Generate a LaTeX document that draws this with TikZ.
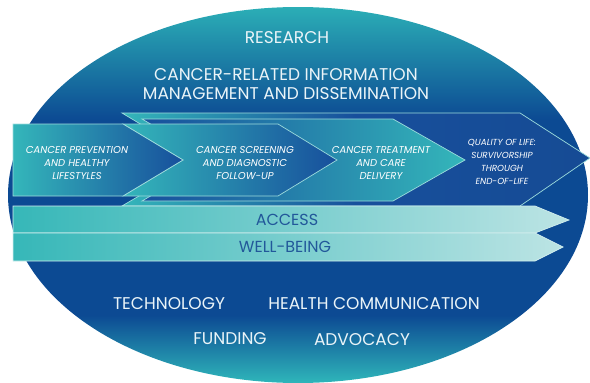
\documentclass[tikz,border=0pt]{standalone}
\usepackage{fontspec}
\setmainfont{Poppins}
\definecolor{ellteal}{HTML}{2BAEB6}
\definecolor{elldark}{HTML}{0C4A93}
\definecolor{ellbot}{HTML}{2FB6BA}
\definecolor{chevteal}{HTML}{34B6BA}
\definecolor{chevdark}{HTML}{174F9C}
\definecolor{edgecol}{HTML}{9CDCDC}
\definecolor{barleft}{HTML}{36B7B8}
\definecolor{barright}{HTML}{BCE4E4}
\definecolor{baredge}{HTML}{D2EEEE}
\definecolor{bartext}{HTML}{22589A}
\definecolor{ltext}{HTML}{EAF4F8}
\pgfdeclareverticalshading{ellshade}{100bp}{color(0bp)=(ellbot); color(25bp)=(ellbot); color(34bp)=(elldark); color(60bp)=(elldark); color(75bp)=(ellteal); color(100bp)=(ellteal)}
\tikzset{
  chev/.style={draw=edgecol, line width=0.7pt, line join=miter},
  barbox/.style={draw=baredge, line width=0.7pt, left color=barleft, right color=barright},
  bigtext/.style={text=ltext, font=\fontsize{17}{20}\selectfont, inner sep=0pt},
  chevtext/.style={text=white, font=\itshape\fontsize{10}{13}\selectfont, align=center, inner sep=0pt},
  bartxt/.style={text=bartext, font=\fontsize{16}{18}\selectfont, inner sep=0pt}
}
\begin{document}
\begin{tikzpicture}[x=1pt,y=-1pt]
\useasboundingbox (0,0) rectangle (590,383);
% ellipse
\shade[shading=ellshade] (298,195) ellipse [x radius=290, y radius=188];
% back arrow (quality of life)
\draw[chev, left color=chevteal, right color=chevdark!95!black, middle color=chevdark]
  (122,113) -- (520,113) -- (590,158) -- (520,206) -- (122,206) -- (200,160) -- cycle;
% treatment arrow
\draw[chev, left color=chevdark, right color=chevteal]
  (142,119) -- (393,119) -- (465,160) -- (393,201) -- (142,201) -- (212,160) -- cycle;
% screening arrow
\draw[chev, left color=chevteal, right color=chevdark]
  (123,124) -- (278,124) -- (337,160) -- (278,196) -- (123,196) -- (183,160) -- cycle;
% prevention arrow
\draw[chev, left color=chevteal, right color=chevdark]
  (13,124) -- (123,124) -- (183,160) -- (123,196) -- (13,196) -- cycle;
% bars
\draw[barbox] (13,206) -- (535,206) -- (569,220) -- (535,233) -- (13,233) -- cycle;
\draw[barbox] (13,233) -- (535,233) -- (563,247) -- (535,261) -- (13,261) -- cycle;
% texts
\node[bigtext] (research) at (287,38) {RESEARCH};
\node[bigtext, align=center, font=\fontsize{17}{19}\selectfont] (info) at (286,84) {CANCER-RELATED INFORMATION\\MANAGEMENT AND DISSEMINATION};
\node[chevtext] (prev) at (77,163) {CANCER PREVENTION\\AND HEALTHY\\LIFESTYLES};
\node[chevtext] (screen) at (245,163) {CANCER SCREENING\\AND DIAGNOSTIC\\FOLLOW-UP};
\node[chevtext] (treat) at (381,163) {CANCER TREATMENT\\AND CARE\\DELIVERY};
\node[chevtext, font=\itshape\fontsize{8.8}{13}\selectfont] (qol) at (502,162) {QUALITY OF LIFE:\\SURVIVORSHIP\\THROUGH\\END-OF-LIFE};
\node[bartxt] (access) at (287,220) {ACCESS};
\node[bartxt] (well) at (285,247) {WELL-BEING};
\node[bigtext] (tech) at (169,304) {TECHNOLOGY};
\node[bigtext] (hc) at (374,304) {HEALTH COMMUNICATION};
\node[bigtext] (fund) at (230,339) {FUNDING};
\node[bigtext] (adv) at (362,340) {ADVOCACY};
\end{tikzpicture}
\end{document}
